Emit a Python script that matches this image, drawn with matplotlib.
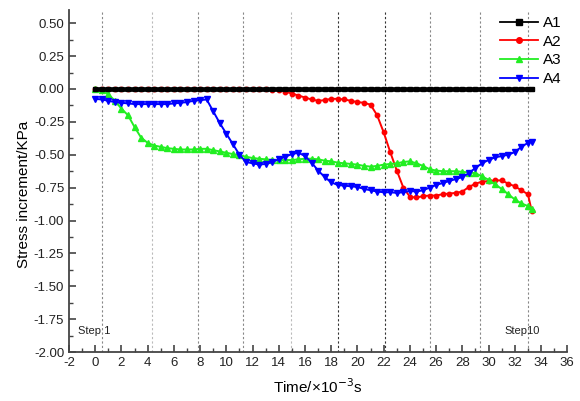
import numpy as np
import matplotlib
matplotlib.use("Agg")
import matplotlib.pyplot as plt
from matplotlib.ticker import MultipleLocator
from matplotlib.lines import Line2D

plt.rcParams['font.family'] = ['Liberation Sans', 'DejaVu Sans']
plt.rcParams['axes.unicode_minus'] = False

# time axis (x 10^-3 s)
time = [0.0, 0.5, 1.0, 1.5, 2.0, 2.5, 3.0, 3.5, 4.0, 4.5, 5.0, 5.5, 6.0, 6.5, 7.0, 7.5,
        8.0, 8.5, 9.0, 9.5, 10.0, 10.5, 11.0, 11.5, 12.0, 12.5, 13.0, 13.5, 14.0, 14.5,
        15.0, 15.5, 16.0, 16.5, 17.0, 17.5, 18.0, 18.5, 19.0, 19.5, 20.0, 20.5, 21.0,
        21.5, 22.0, 22.5, 23.0, 23.5, 24.0, 24.5, 25.0, 25.5, 26.0, 26.5, 27.0, 27.5,
        28.0, 28.5, 29.0, 29.5, 30.0, 30.5, 31.0, 31.5, 32.0, 32.5, 33.0, 33.3]

a1 = [0.0] * len(time)

a2 = [0.0, 0.0, 0.0, 0.0, 0.0, 0.0, 0.0, 0.0, 0.0, 0.0, 0.0, 0.0, 0.0, 0.0, 0.0, 0.0,
      0.0, 0.0, 0.0, 0.0, 0.0, 0.0, 0.0, 0.0, 0.0, 0.0, 0.0, -0.005, -0.01, -0.02,
      -0.035, -0.05, -0.065, -0.08, -0.09, -0.085, -0.075, -0.075, -0.08, -0.09, -0.10,
      -0.105, -0.12, -0.20, -0.33, -0.48, -0.62, -0.75, -0.82, -0.825, -0.815, -0.81,
      -0.81, -0.80, -0.795, -0.79, -0.78, -0.745, -0.72, -0.705, -0.70, -0.695, -0.695,
      -0.72, -0.74, -0.77, -0.80, -0.93]

a3 = [0.0, -0.01, -0.04, -0.09, -0.15, -0.20, -0.29, -0.37, -0.41, -0.43, -0.44, -0.45,
      -0.455, -0.46, -0.46, -0.46, -0.455, -0.455, -0.465, -0.475, -0.485, -0.495, -0.505,
      -0.515, -0.525, -0.53, -0.535, -0.54, -0.54, -0.54, -0.54, -0.535, -0.53, -0.53,
      -0.535, -0.545, -0.55, -0.56, -0.565, -0.57, -0.575, -0.585, -0.59, -0.585, -0.575,
      -0.57, -0.565, -0.555, -0.55, -0.565, -0.585, -0.61, -0.62, -0.625, -0.625, -0.625,
      -0.63, -0.635, -0.64, -0.665, -0.69, -0.725, -0.76, -0.80, -0.84, -0.87, -0.89, -0.91]

a4 = [-0.075, -0.08, -0.09, -0.10, -0.105, -0.11, -0.115, -0.115, -0.115, -0.115, -0.115,
      -0.115, -0.11, -0.105, -0.10, -0.09, -0.085, -0.08, -0.17, -0.26, -0.34, -0.42,
      -0.50, -0.555, -0.565, -0.575, -0.57, -0.555, -0.535, -0.515, -0.495, -0.485, -0.51,
      -0.56, -0.62, -0.67, -0.71, -0.73, -0.735, -0.74, -0.745, -0.76, -0.77, -0.78,
      -0.785, -0.785, -0.79, -0.785, -0.775, -0.78, -0.77, -0.75, -0.73, -0.715, -0.70,
      -0.685, -0.67, -0.64, -0.60, -0.565, -0.54, -0.52, -0.51, -0.50, -0.48, -0.44,
      -0.41, -0.40]

series_names = ['A1', 'A2', 'A3', 'A4']
step_lines = [0.55, 4.33, 7.8, 11.3, 14.9, 18.5, 22.1, 25.5, 29.35, 33.0]
step_colors = ['#888888', '#bbbbbb', '#888888', '#888888', '#bbbbbb',
               '#333333', '#333333', '#888888', '#888888', '#888888']

fig = plt.figure(figsize=(5.8, 4.01), dpi=100)
ax = fig.add_axes([0.119, 0.122, 0.859, 0.853])

for xv, c in zip(step_lines, step_colors):
    ax.axvline(xv, color=c, linestyle=(0, (2, 2)), linewidth=0.8, zorder=1)

colors = ['black', '#ff0000', '#22ee22', '#0000ff']
markers = ['s', 'o', '^', 'v']
ax.plot(time, a1, color=colors[0], marker=markers[0], markersize=3.5, linewidth=3.4, zorder=5)
ax.plot(time, a2, color=colors[1], marker=markers[1], markersize=3.2, linewidth=1.4, zorder=3)
ax.plot(time, a3, color=colors[2], marker=markers[2], markersize=3.8, linewidth=1.4, zorder=3)
ax.plot(time, a4, color=colors[3], marker=markers[3], markersize=3.8, linewidth=1.4, zorder=4)

ax.set_xlim(-2, 36)
ax.set_ylim(-2.0, 0.6)
ax.xaxis.set_major_locator(MultipleLocator(2))
ax.xaxis.set_minor_locator(MultipleLocator(1))
ax.yaxis.set_minor_locator(MultipleLocator(0.125))
ax.set_yticks(np.arange(-2.0, 0.51, 0.25))
ax.yaxis.set_major_formatter(matplotlib.ticker.FormatStrFormatter('%.2f'))

for s in ['top', 'right']:
    ax.spines[s].set_visible(False)
for s in ['left', 'bottom']:
    ax.spines[s].set_color('#444444')
    ax.spines[s].set_linewidth(1.3)

ax.tick_params(axis='both', which='major', direction='in', length=5, width=1.2,
               labelsize=9.5, colors='#444444', labelcolor='#222222')
ax.tick_params(axis='both', which='minor', direction='in', length=3, width=1.0,
               colors='#444444')

ax.set_xlabel('Time/×10$^{-3}$s', fontsize=11, labelpad=6)
ax.set_ylabel('Stress increment/KPa', fontsize=11)
ax.yaxis.set_label_coords(-0.076, 0.46)

ax.text(-1.3, -1.84, 'Step 1', fontsize=8, color='#222222', va='center', ha='left')
ax.text(31.2, -1.84, 'Step10', fontsize=8, color='#222222', va='center', ha='left')

handles = [Line2D([], [], color=c, marker=m, markersize=4, linewidth=1.3)
           for c, m in zip(colors, markers)]
leg = ax.legend(handles, series_names, loc='upper right', frameon=False, fontsize=11,
                handlelength=2.5, handletextpad=0.3, labelspacing=0.3, borderaxespad=0.0,
                numpoints=1, bbox_to_anchor=(1.0, 1.0))

fig.savefig('out.png', dpi=100)
